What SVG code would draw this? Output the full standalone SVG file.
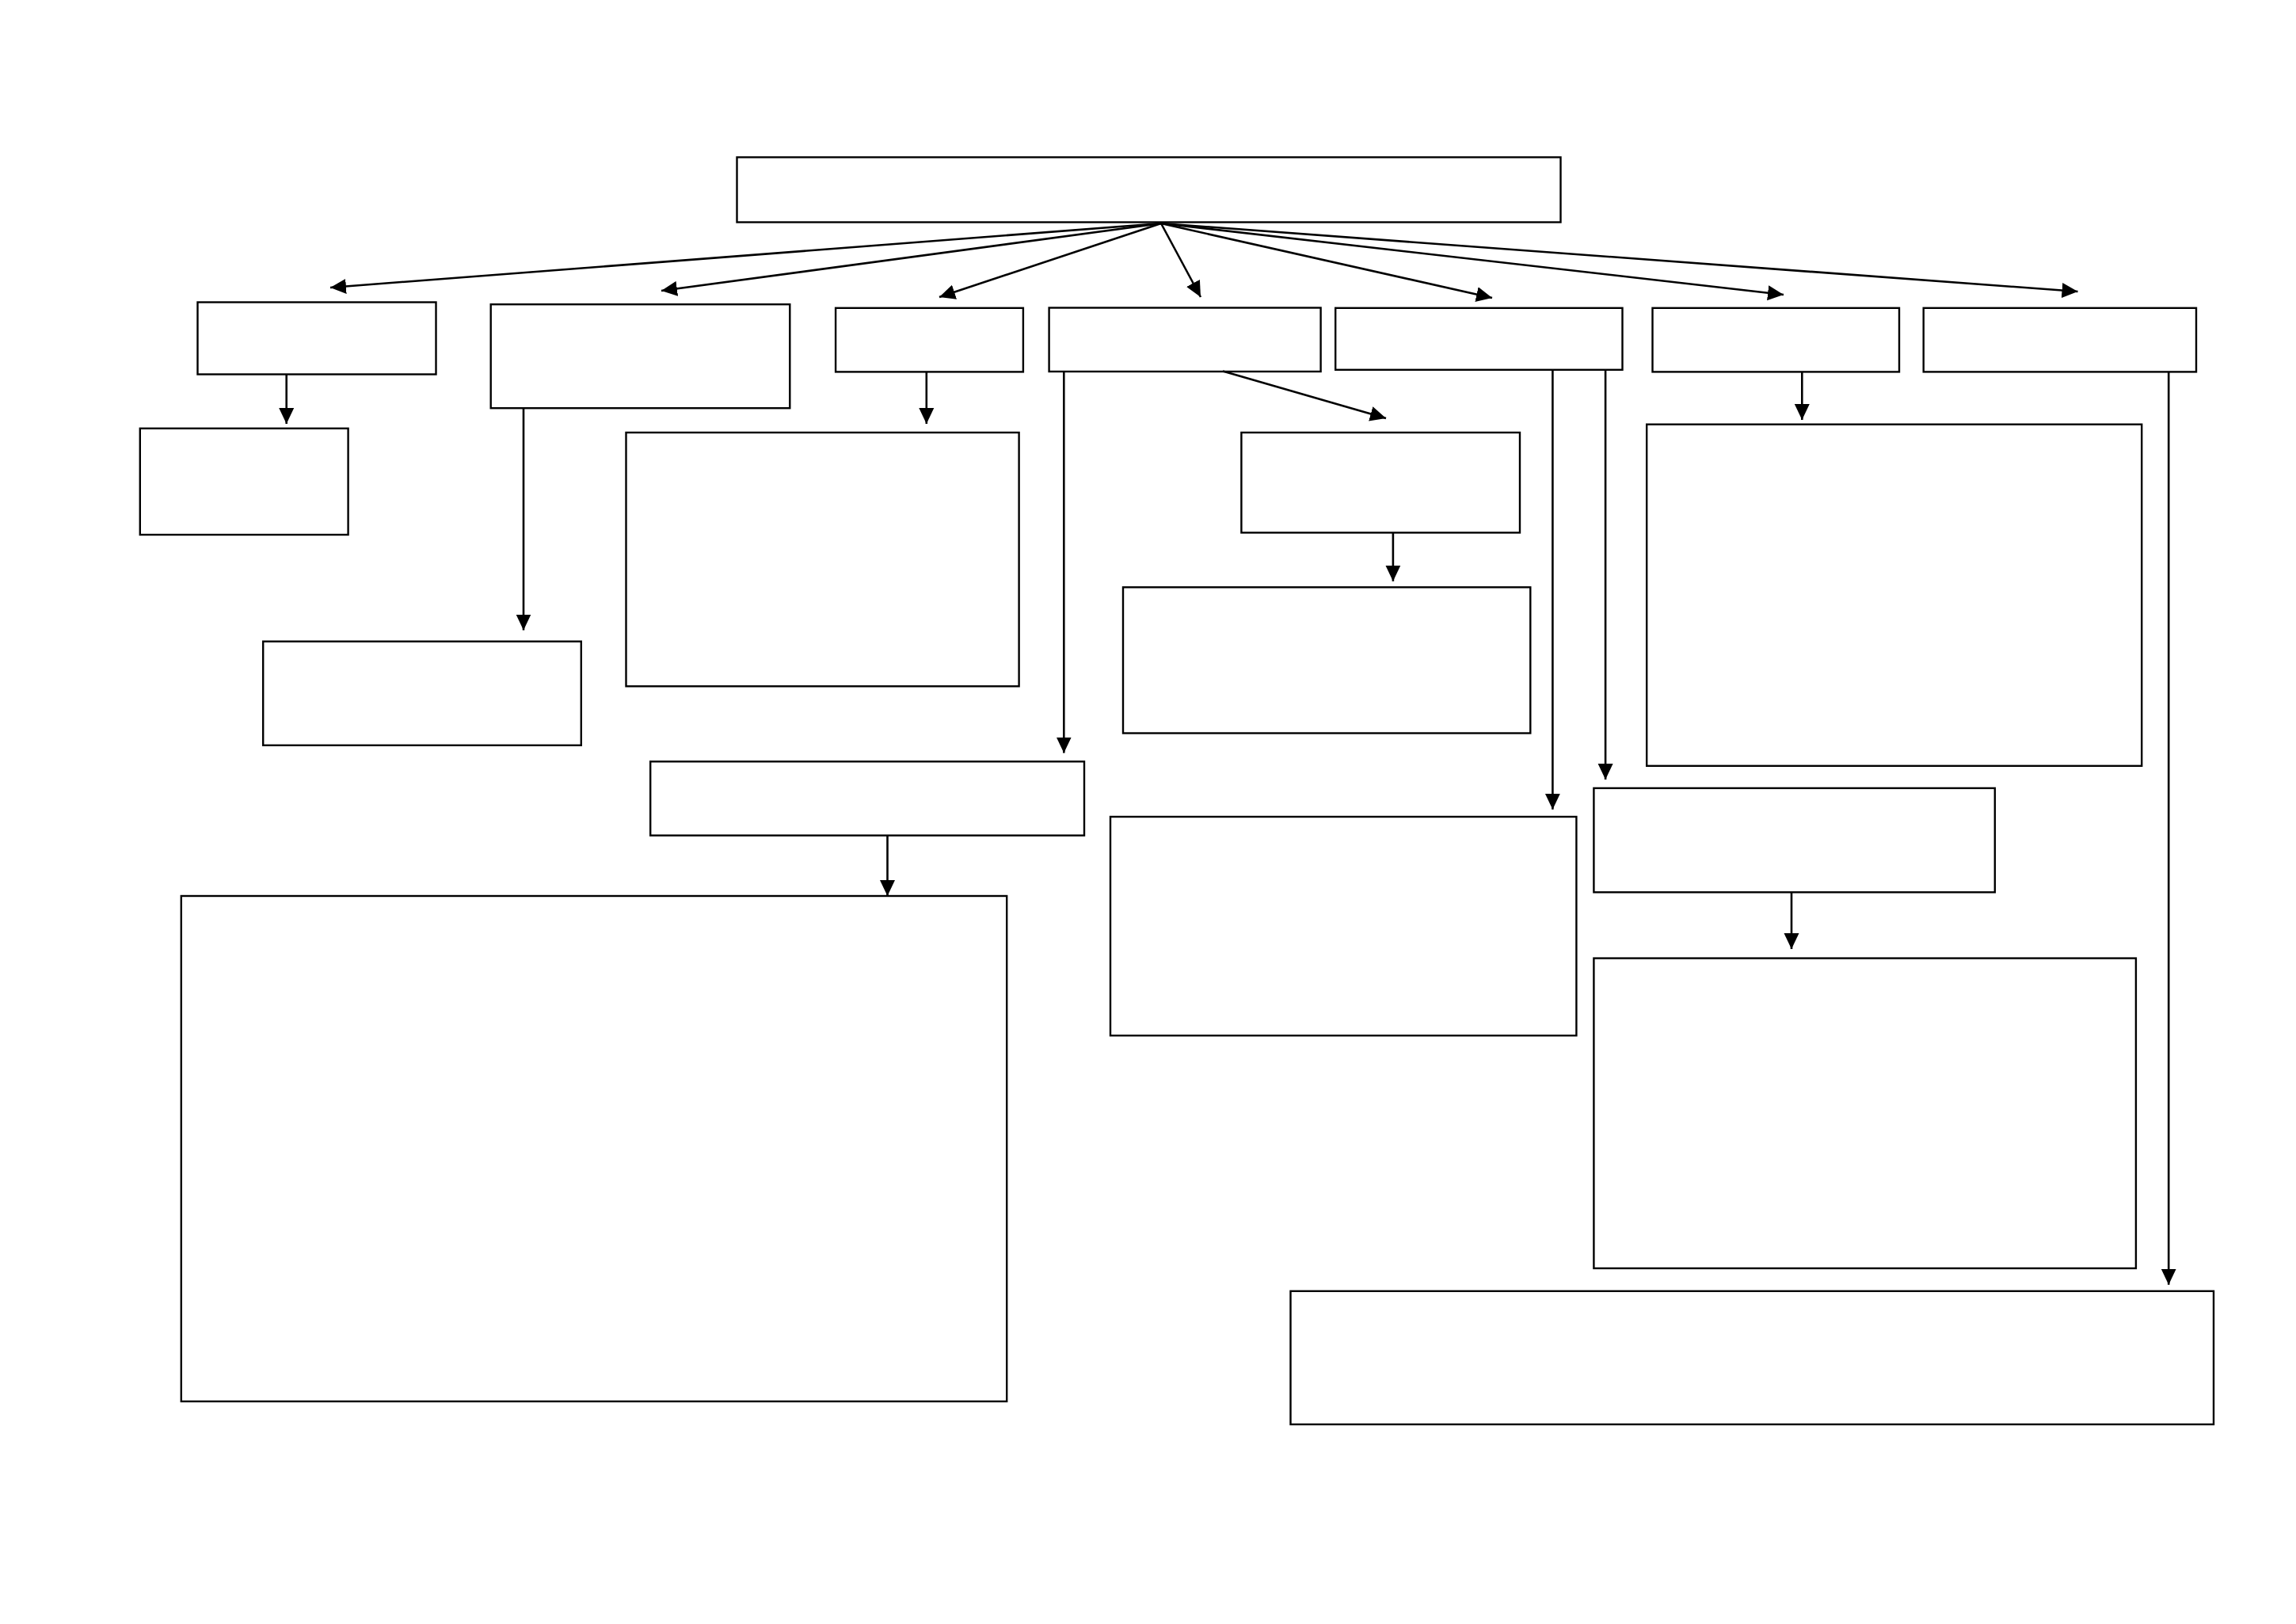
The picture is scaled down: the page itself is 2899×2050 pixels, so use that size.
<svg xmlns="http://www.w3.org/2000/svg" width="2899" height="2050" viewBox="0 0 2899 2050">
<style>
.node rect{fill:#ffffff;stroke:#000000;stroke-width:2.4}
.conn line{stroke:#000000;stroke-width:2.6;fill:none;marker-end:url(#arrow)}
</style>
<defs>
<marker id="arrow" markerUnits="userSpaceOnUse" viewBox="0 0 20 20" refX="20" refY="10" markerWidth="20" markerHeight="20" orient="auto">
<path d="M0,0.5 L20,10 L0,19.5 Z" fill="#000000"/>
</marker>
</defs>
<rect x="0" y="0" width="2899" height="2050" fill="#ffffff"/>
<g id="nodes">
<g id="top" class="node"><rect x="930.5" y="198.5" width="1040" height="82"/></g>
<g id="b1" class="node"><rect x="249.5" y="381.5" width="301" height="91"/></g>
<g id="b2" class="node"><rect x="619.7" y="384.2" width="377.6" height="131"/></g>
<g id="b3" class="node"><rect x="1055.1" y="388.8" width="236.8" height="80.6"/></g>
<g id="b4" class="node"><rect x="1324.6" y="388.5" width="343" height="80.5"/></g>
<g id="b5" class="node"><rect x="1686.2" y="388.8" width="362.3" height="78"/></g>
<g id="b6" class="node"><rect x="2086.5" y="388.8" width="311.5" height="80.6"/></g>
<g id="b7" class="node"><rect x="2428.7" y="388.8" width="344.3" height="80.6"/></g>
<g id="c1" class="node"><rect x="176.8" y="540.8" width="262.8" height="134.2"/></g>
<g id="c2" class="node"><rect x="332.2" y="809.7" width="401.6" height="131.1"/></g>
<g id="c3" class="node"><rect x="790.5" y="546" width="496.1" height="320.3"/></g>
<g id="c4" class="node"><rect x="821.2" y="961.3" width="547.8" height="93.3"/></g>
<g id="d1" class="node"><rect x="228.8" y="1131" width="1042.4" height="638"/></g>
<g id="c5" class="node"><rect x="1567.4" y="546" width="351.6" height="126.4"/></g>
<g id="c6" class="node"><rect x="1418" y="741.3" width="514.3" height="184.2"/></g>
<g id="c7" class="node"><rect x="2079.2" y="535.7" width="625" height="431.1"/></g>
<g id="c8" class="node"><rect x="1402" y="1031" width="588.4" height="276.2"/></g>
<g id="c9" class="node"><rect x="2012.4" y="994.9" width="506.4" height="131.4"/></g>
<g id="c10" class="node"><rect x="2012.4" y="1209.6" width="684.5" height="391.4"/></g>
<g id="e" class="node"><rect x="1629.5" y="1629.8" width="1165.5" height="168.2"/></g>
</g>
<g id="connectors" class="conn">
<line x1="1466" y1="282" x2="417" y2="363"/>
<line x1="1466" y1="282" x2="835" y2="367"/>
<line x1="1466" y1="282" x2="1186" y2="375"/>
<line x1="1466" y1="282" x2="1516" y2="375"/>
<line x1="1466" y1="282" x2="1884" y2="376"/>
<line x1="1466" y1="282" x2="2252" y2="372"/>
<line x1="1466" y1="282" x2="2623.5" y2="368"/>
<line x1="361.7" y1="472.5" x2="361.7" y2="535"/>
<line x1="661" y1="515.2" x2="661" y2="795.5"/>
<line x1="1169.8" y1="469.4" x2="1169.8" y2="535"/>
<line x1="1343.3" y1="469" x2="1343.3" y2="950.5"/>
<line x1="1544" y1="468.5" x2="1750" y2="528"/>
<line x1="1758.9" y1="672.4" x2="1758.9" y2="733.7"/>
<line x1="1120.5" y1="1054.6" x2="1120.5" y2="1131"/>
<line x1="1960.4" y1="466.8" x2="1960.4" y2="1021.8"/>
<line x1="2027.1" y1="466.8" x2="2027.1" y2="984"/>
<line x1="2275.3" y1="469.4" x2="2275.3" y2="530"/>
<line x1="2262" y1="1126.3" x2="2262" y2="1198"/>
<line x1="2738.2" y1="469.4" x2="2738.2" y2="1621.7"/>
</g>
</svg>
